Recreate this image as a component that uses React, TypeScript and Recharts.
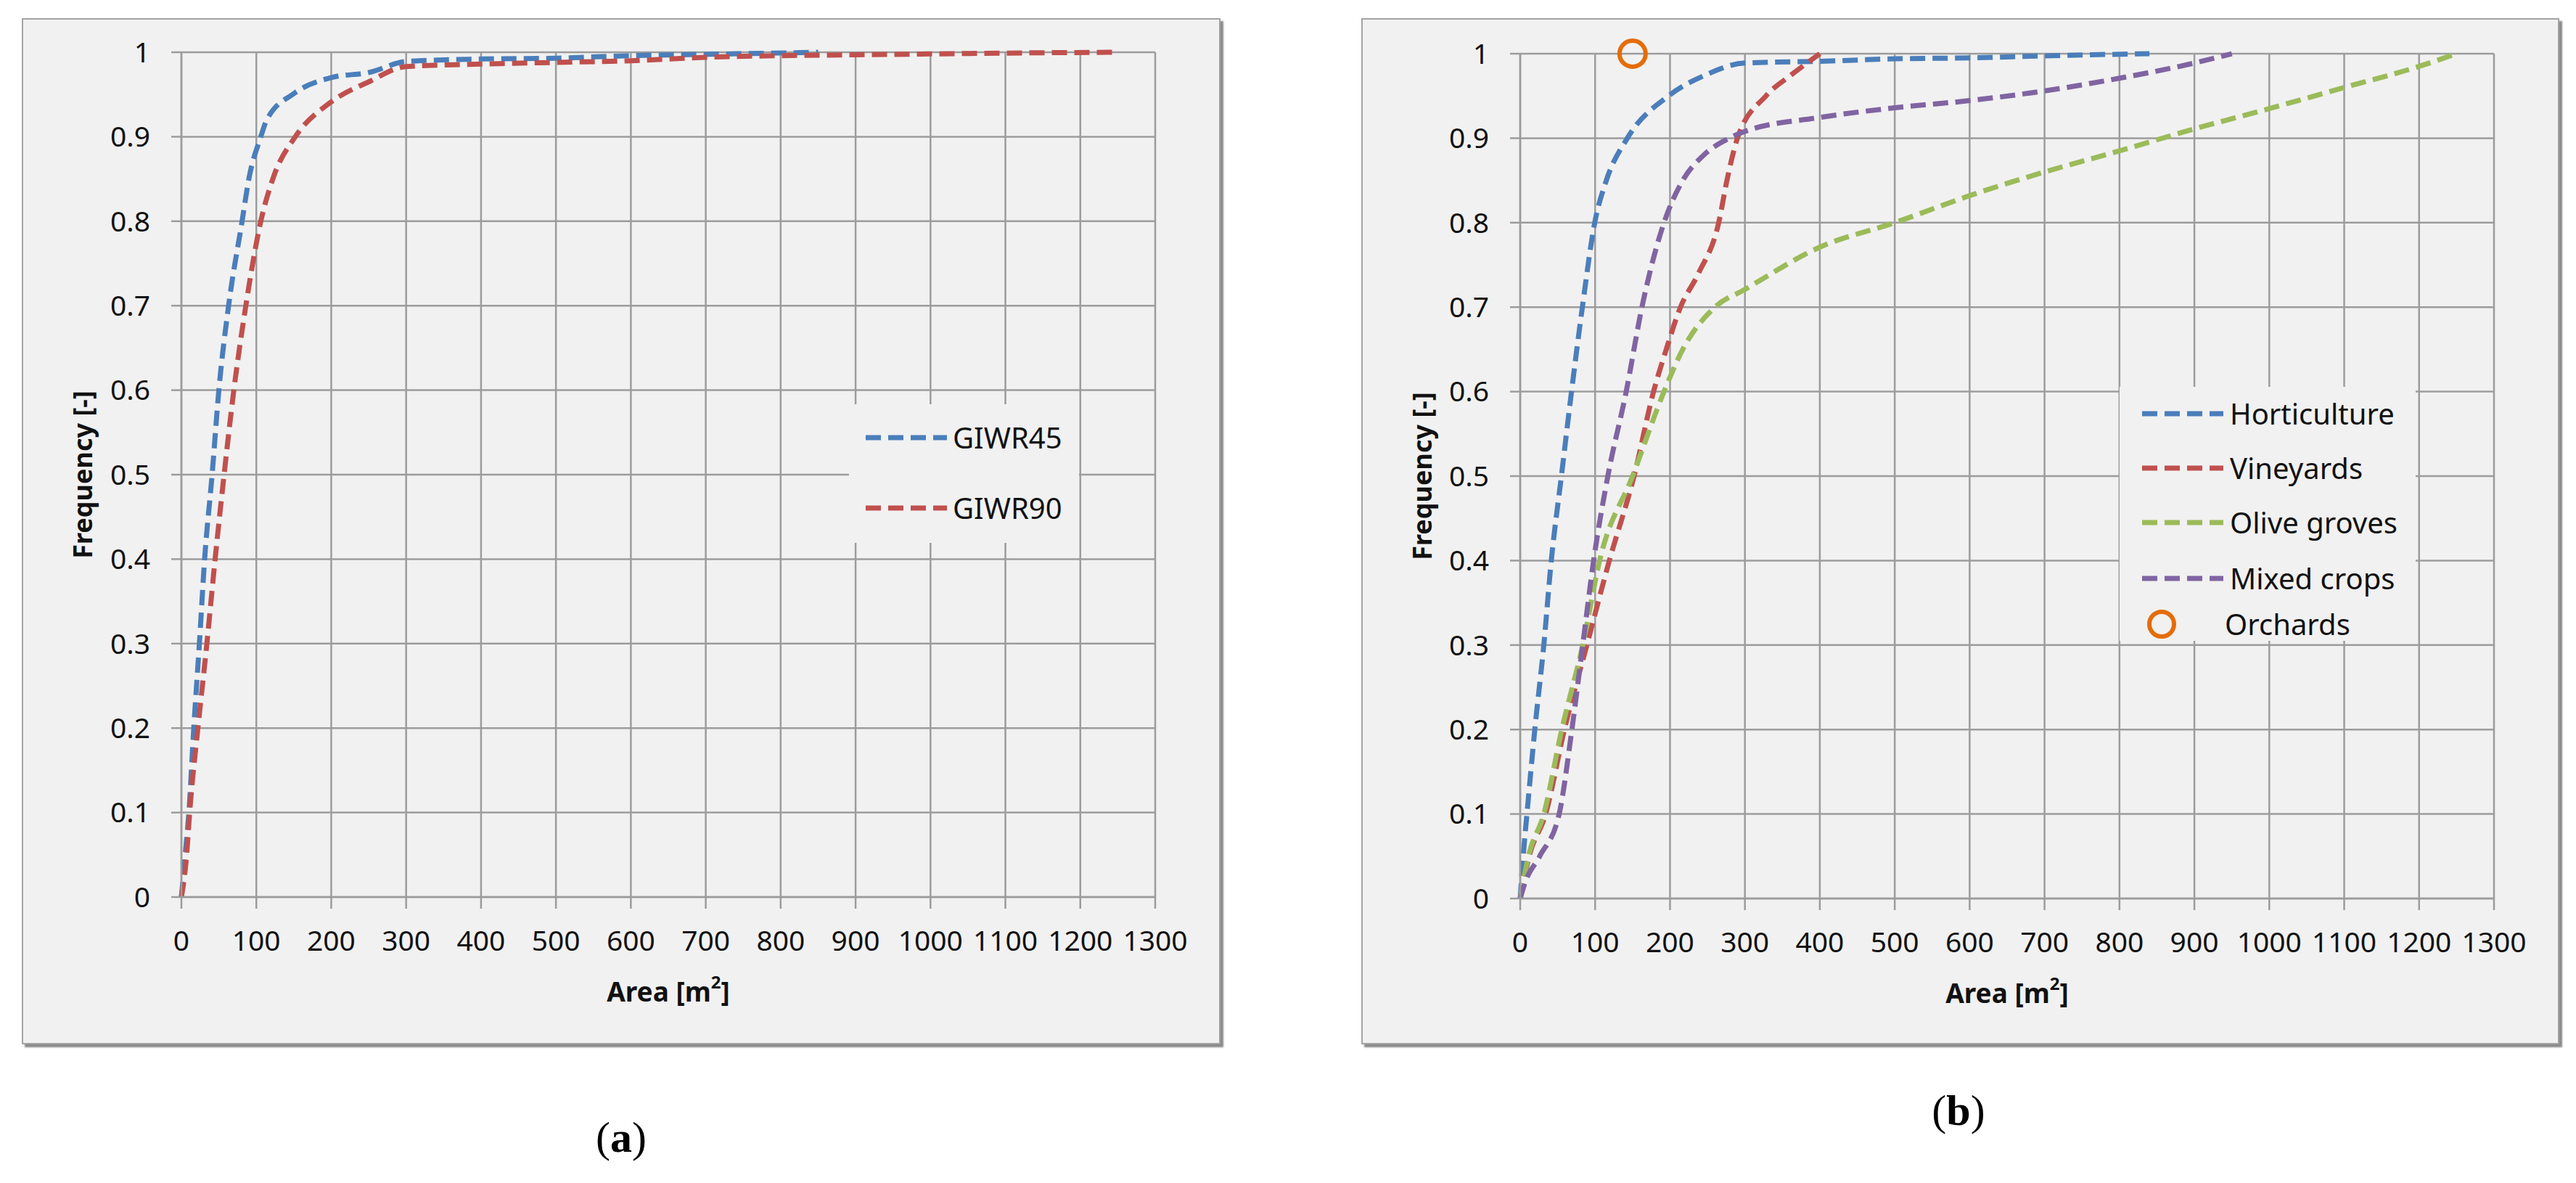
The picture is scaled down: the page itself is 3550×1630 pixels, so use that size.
import React from "react";
import {
  ComposedChart,
  Line,
  Scatter,
  XAxis,
  YAxis,
  CartesianGrid,
  Legend,
  Label,
} from "recharts";

// axis ticks
const areaTicks = [0, 100, 200, 300, 400, 500, 600, 700, 800, 900, 1000, 1100, 1200, 1300];
const freqTicks = [0, 0.1, 0.2, 0.3, 0.4, 0.5, 0.6, 0.7, 0.8, 0.9, 1];

// panel (a)
const giwr45Area = [0, 5, 10, 16.5, 24, 31, 41, 50, 63, 81, 90, 106, 114, 150, 200, 250, 300, 400, 500, 600, 700, 850];
const giwr45Freq = [0, 0.05, 0.1, 0.2, 0.3, 0.4, 0.5, 0.6, 0.7, 0.8, 0.85, 0.9, 0.92, 0.951, 0.97, 0.976, 0.989, 0.992, 0.993, 0.996, 0.9975, 1];
const giwr90Area = [0, 7, 11, 22, 34, 45, 57, 70, 86, 106, 122, 152, 198, 250, 300, 400, 500, 600, 700, 800, 900, 1000, 1100, 1250];
const giwr90Freq = [0, 0.05, 0.1, 0.2, 0.3, 0.4, 0.5, 0.6, 0.7, 0.8, 0.85, 0.9, 0.94, 0.965, 0.983, 0.986, 0.988, 0.99, 0.994, 0.996, 0.997, 0.998, 0.999, 1];

// panel (b)
const hortiArea = [0, 4, 9, 19.5, 31.5, 41.5, 55, 68.5, 83, 99.5, 115, 143, 198, 248, 300, 400, 500, 600, 700, 840];
const hortiFreq = [0, 0.05, 0.1, 0.2, 0.3, 0.4, 0.5, 0.6, 0.7, 0.8, 0.85, 0.9, 0.95, 0.975, 0.989, 0.991, 0.994, 0.995, 0.9975, 1];
const vineArea = [0, 12, 34, 59, 89, 119, 152, 178, 195, 214, 238, 265, 276, 290, 328, 362, 400];
const vineFreq = [0, 0.05, 0.1, 0.2, 0.3, 0.4, 0.5, 0.6, 0.65, 0.7, 0.74, 0.8, 0.85, 0.9, 0.95, 0.975, 1];
const oliveArea = [0, 11, 31.5, 55.5, 83.5, 106, 150, 192, 217, 260, 300, 400, 500, 600, 700, 800, 900, 1000, 1100, 1200, 1250];
const oliveFreq = [0, 0.05, 0.1, 0.2, 0.3, 0.4, 0.5, 0.6, 0.65, 0.7, 0.721, 0.771, 0.8, 0.832, 0.86, 0.885, 0.911, 0.935, 0.96, 0.985, 1];
const mixedArea = [0, 7, 26, 52, 69, 83.5, 98, 117, 141.5, 162.5, 192, 217, 245, 279, 300, 400, 500, 600, 700, 800, 900, 950];
const mixedFreq = [0, 0.02, 0.05, 0.1, 0.2, 0.3, 0.4, 0.5, 0.6, 0.7, 0.8, 0.85, 0.88, 0.9, 0.908, 0.9245, 0.936, 0.9445, 0.956, 0.971, 0.989, 1];
const orchardArea = [150];
const orchardFreq = [1];

const zip = (xs: number[], ys: number[]) => xs.map((v, i) => ({ v, f: ys[i] }));

const FONT = "'Noto Sans', 'Open Sans', sans-serif";
const GRID = "#9c9c9c";
const DASH = "21 10";
const LW = 7;

const seriesA = [
  { name: "GIWR45", color: "#4a7ebb", data: zip(giwr45Area, giwr45Freq) },
  { name: "GIWR90", color: "#c0504d", data: zip(giwr90Area, giwr90Freq) },
];
const seriesB = [
  { name: "Horticulture", color: "#4a7ebb", data: zip(hortiArea, hortiFreq) },
  { name: "Vineyards", color: "#c0504d", data: zip(vineArea, vineFreq) },
  { name: "Olive groves", color: "#9bbb59", data: zip(oliveArea, oliveFreq) },
  { name: "Mixed crops", color: "#8064a2", data: zip(mixedArea, mixedFreq) },
];
const orchards = zip(orchardArea, orchardFreq);
const ORANGE = "#e46c0a";

type LegendRow = { name: string; color: string; marker?: boolean };

function legendContent(rows: LegendRow[], rowY: number[], lineX: number, textX: number, textXMarker: number, markerX: number) {
  return () => (
    <div style={{ position: "relative", width: "100%", height: "100%" }}>
      {rows.map((r, i) => (
        <div key={r.name}>
          <svg style={{ position: "absolute", left: 0, top: rowY[i] - 25 }} width={textX} height={50}>
            {r.marker ? (
              <circle cx={markerX} cy={25} r={17} fill="none" stroke={ORANGE} strokeWidth={6} />
            ) : (
              <line x1={lineX} x2={lineX + 112} y1={25} y2={25} stroke={r.color} strokeWidth={LW} strokeDasharray={DASH} />
            )}
          </svg>
          <div
            style={{
              position: "absolute",
              left: r.marker ? textXMarker : textX,
              top: rowY[i] - 28,
              height: 56,
              lineHeight: "56px",
              fontSize: 40,
              fontFamily: FONT,
              color: "#111",
              whiteSpace: "nowrap",
            }}
          >
            {r.name}
          </div>
        </div>
      ))}
    </div>
  );
}

const yTitle = (dx: number) => (props: any) => {
  const vb = props.viewBox;
  const cx = vb.x + dx;
  const cy = vb.y + vb.height / 2;
  return (
    <text
      x={cx}
      y={cy}
      transform={`rotate(-90 ${cx} ${cy})`}
      textAnchor="middle"
      dominantBaseline="central"
      fontFamily={FONT}
      fontSize={36}
      fontWeight="bold"
      fill="#111"
    >
      Frequency [-]
    </text>
  );
};

const xTitle = (props: any) => {
  const vb = props.viewBox;
  const cx = vb.x + vb.width / 2;
  const cy = vb.y + 129;
  return (
    <text x={cx} y={cy} textAnchor="middle" dominantBaseline="central" fontFamily={FONT} fontSize={37} fontWeight="bold" fill="#111">
      Area [m
      <tspan dy={-13} fontSize={24}>2</tspan>
      <tspan dy={13}>]</tspan>
    </text>
  );
};

type PanelProps = {
  left: number;
  width: number;
  plotLeft: number;
  plotTop: number;
  children: React.ReactNode;
};

function Panel({ left, width, plotLeft, plotTop, children }: PanelProps) {
  const innerW = width - 4;
  const innerH = 1410;
  return (
    <div
      style={{
        position: "absolute",
        left,
        top: 25,
        width,
        height: 1414,
        boxSizing: "border-box",
        border: "2px solid #a3a3a3",
        background: "#f1f1f1",
        boxShadow: "4px 4px 2px #8a8a8a",
      }}
    >
      <ComposedChart
        width={innerW}
        height={innerH}
        margin={{ top: plotTop, right: innerW - plotLeft - 1342, bottom: 0, left: 0 }}
        style={{ fontFamily: FONT }}
      >
        <CartesianGrid stroke={GRID} strokeWidth={2.5} />
        <XAxis
          dataKey="v"
          type="number"
          domain={[0, 1300]}
          ticks={areaTicks}
          interval={0}
          height={innerH - plotTop - 1164}
          tickSize={16}
          tickMargin={30}
          axisLine={{ stroke: GRID, strokeWidth: 2.5 }}
          tickLine={{ stroke: GRID, strokeWidth: 2.5 }}
          tick={{ fill: "#111", fontSize: 39 }}
        >
          <Label content={xTitle} />
        </XAxis>
        <YAxis
          type="number"
          domain={[0, 1]}
          ticks={freqTicks}
          interval={0}
          width={plotLeft}
          tickSize={14}
          tickMargin={29}
          axisLine={{ stroke: GRID, strokeWidth: 2.5 }}
          tickLine={{ stroke: GRID, strokeWidth: 2.5 }}
          tick={{ fill: "#111", fontSize: 39 }}
          tickFormatter={(t: number) => String(t)}
        >
          <Label content={yTitle(81)} />
        </YAxis>
        {children}
      </ComposedChart>
    </div>
  );
}

function seriesLines(list: { name: string; color: string; data: { v: number; f: number }[] }[]) {
  return list.map((s) => (
    <Line
      key={s.name}
      name={s.name}
      data={s.data}
      dataKey="f"
      type="monotone"
      stroke={s.color}
      strokeWidth={LW}
      strokeDasharray={DASH}
      dot={false}
      activeDot={false}
      isAnimationActive={false}
    />
  ));
}

export default function App() {
  const rowsA: LegendRow[] = seriesA.map((s) => ({ name: s.name, color: s.color }));
  const rowsB: LegendRow[] = [
    ...seriesB.map((s) => ({ name: s.name, color: s.color })),
    { name: "Orchards", color: ORANGE, marker: true },
  ];
  return (
    <div style={{ position: "fixed", left: 0, top: 0, width: 3550, height: 1630, background: "#fff" }}>
      <Panel left={30} width={1652} plotLeft={218} plotTop={45}>
        {seriesLines(seriesA)}
        <Legend
          layout="vertical"
          align="center"
          verticalAlign="middle"
          content={legendContent(rowsA, [46, 143], 23, 143, 143, 0)}
          wrapperStyle={{ left: 1138, top: 530, width: 317, height: 191, background: "#f1f1f1", margin: 0 }}
        />
      </Panel>
      <Panel left={1876} width={1651} plotLeft={217} plotTop={47}>
        {seriesLines(seriesB)}
        <Scatter
          name="Orchards"
          data={orchards}
          dataKey="f"
          isAnimationActive={false}
          shape={(p: any) => <circle cx={p.cx} cy={p.cy} r={18} fill="none" stroke={ORANGE} strokeWidth={6} />}
        />
        <Legend
          layout="vertical"
          align="center"
          verticalAlign="middle"
          content={legendContent(rowsB, [37, 112, 187, 264, 327], 31, 152, 145, 58)}
          wrapperStyle={{ left: 1043, top: 506, width: 408, height: 350, background: "#f1f1f1", margin: 0 }}
        />
      </Panel>
      <div style={{ position: "absolute", left: 856, top: 1567, transform: "translate(-50%, -50%)", fontFamily: "'Liberation Serif', 'DejaVu Serif', serif", fontSize: 60 }}>
        (<b>a</b>)
      </div>
      <div style={{ position: "absolute", left: 2699, top: 1530, transform: "translate(-50%, -50%)", fontFamily: "'Liberation Serif', 'DejaVu Serif', serif", fontSize: 60 }}>
        (<b>b</b>)
      </div>
    </div>
  );
}
